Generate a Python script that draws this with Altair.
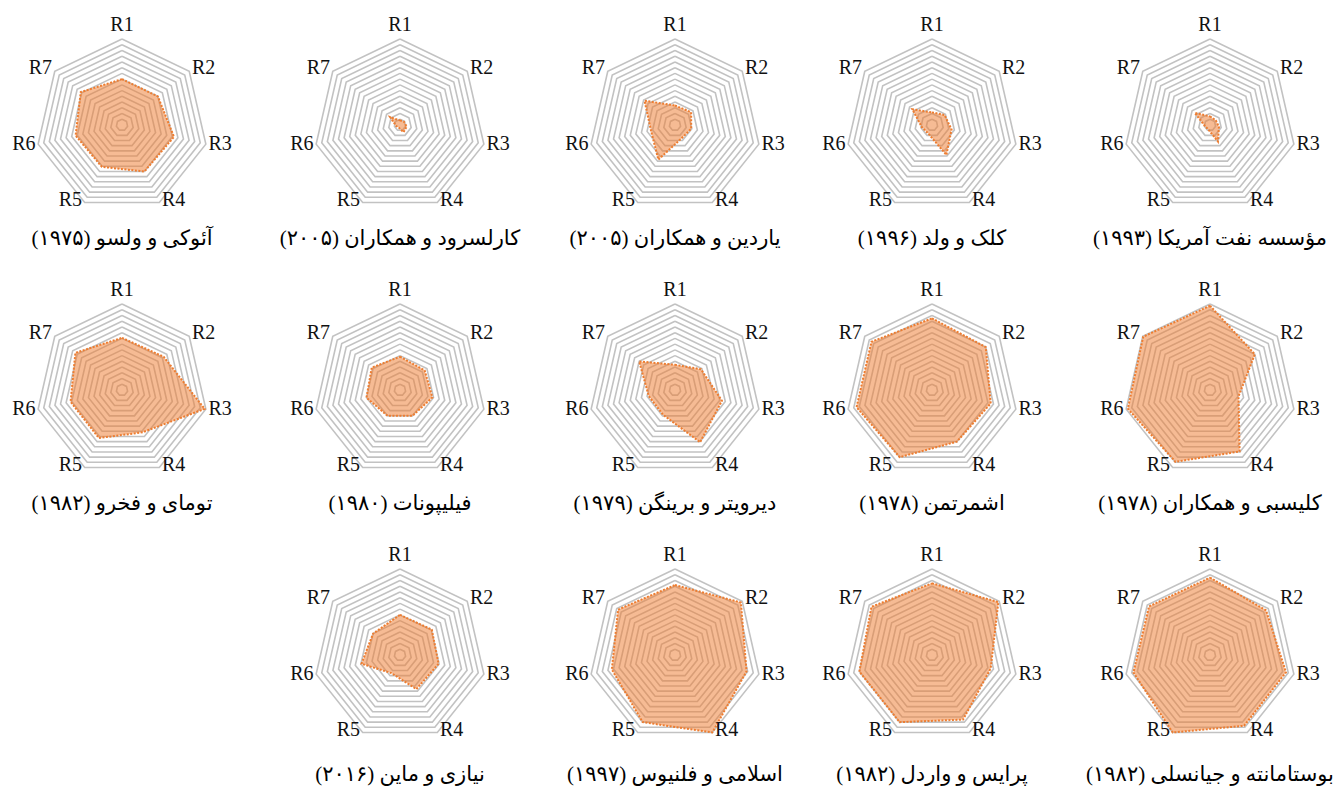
import math
import altair as alt
import pandas as pd

# ---------------- data ----------------
axis_labels = ["R1", "R2", "R3", "R4", "R5", "R6", "R7"]
ring_levels = list(range(1, 16))  # 15 grid rings, outer ring = 15

titles = [
    "مؤسسه نفت آمریکا (۱۹۹۳)",
    "کلک و ولد (۱۹۹۶)",
    "یاردین و همکاران (۲۰۰۵)",
    "کارلسرود و همکاران (۲۰۰۵)",
    "آئوکی و ولسو (۱۹۷۵)",
    "کلیسبی و همکاران (۱۹۷۸)",
    "اشمرتمن (۱۹۷۸)",
    "دیرویتر و برینگن (۱۹۷۹)",
    "فیلیپونات (۱۹۸۰)",
    "تومای و فخرو (۱۹۸۲)",
    "بوستامانته و جیانسلی (۱۹۸۲)",
    "پرایس و واردل (۱۹۸۲)",
    "اسلامی و فلنیوس (۱۹۹۷)",
    "نیازی و ماین (۲۰۱۶)",
]

# values R1..R7 for each study
api_1993 = [1.5, 1.3, 1.6, 3.2, 0.8, 0.9, 3.4]
kalk_1996 = [2.2, 2.8, 3.5, 5.8, 1.6, 1.8, 4.4]
yardin_2005 = [3.4, 3.6, 2.9, 2.6, 6.7, 4.3, 6.8]
karlsrud_2005 = [0.8, 0.9, 1.2, 1.4, 0.5, 0.7, 2.2]
aoki_1975 = [8.0, 8.0, 9.3, 9.0, 8.1, 8.3, 9.2]
clisby_1978 = [14.7, 10.0, 5.1, 11.9, 13.9, 14.7, 14.9]
schmertmann_1978 = [12.5, 12.0, 10.5, 10.0, 13.0, 13.5, 13.5]
deruiter_1979 = [4.4, 5.8, 8.4, 10.1, 4.8, 4.7, 8.0]
philipponnat_1980 = [5.8, 5.5, 5.8, 5.0, 5.0, 6.0, 6.3]
tumay_1982 = [9.1, 9.3, 14.8, 8.2, 9.3, 9.2, 10.4]
bustamante_1982 = [13.5, 12.5, 13.6, 13.7, 15.0, 13.7, 13.6]
price_1982 = [12.5, 14.8, 10.5, 12.5, 13.0, 13.0, 13.5]
eslami_1997 = [12.2, 14.7, 12.8, 15.0, 13.0, 11.3, 12.7]
niazi_2016 = [7.0, 7.1, 6.9, 6.6, 3.5, 6.9, 6.0]

series = [
    api_1993, kalk_1996, yardin_2005, karlsrud_2005, aoki_1975,
    clisby_1978, schmertmann_1978, deruiter_1979, philipponnat_1980, tumay_1982,
    bustamante_1982, price_1982, eslami_1997, niazi_2016,
]

# ---------------- tables ----------------
val_rows = []
for t, vals in zip(titles, series):
    for i in range(8):  # closed polygon
        val_rows.append({"study": t, "idx": i, "value": vals[i % 7]})
val_df = pd.DataFrame(val_rows)

ring_df = pd.DataFrame(
    [{"ring": r, "idx": i, "value": r} for r in ring_levels for i in range(8)]
)
label_df = pd.DataFrame([{"label": l, "idx": i} for i, l in enumerate(axis_labels)])
title_df = pd.DataFrame({"study": titles})

# ---------------- layout ----------------
PW, PH = 240, 250          # panel size (px)
K = 86.0 / 15.0            # px per grid unit
COL_CX = [114, 120, 123, 108, 114]   # radar centre x inside panel, per column (left->right)
CY = 117                   # radar centre y from panel top
TITLE_DY = [114, 114, 120] # title offset below centre, per row
ORANGE = "#ED7D31"
GRID = "#C2C2C2"
SERIF = "Liberation Serif, Times New Roman, serif"
FA_FONT = "Liberation Serif, DejaVu Sans, serif"


def panel(study, col, row):
    cx = COL_CX[col]
    xs = alt.Scale(domain=[-cx / K, (PW - cx) / K], nice=False, zero=False)
    ys = alt.Scale(domain=[-(PH - CY) / K, CY / K], nice=False, zero=False)

    def X(f):
        return alt.X(f, type="quantitative", scale=xs, axis=None)

    def Y(f):
        return alt.Y(f, type="quantitative", scale=ys, axis=None)

    polar = dict(
        px="datum.value*sin(2*PI*datum.idx/7)",
        py="datum.value*cos(2*PI*datum.idx/7)",
    )

    rings = (
        alt.Chart(ring_df)
        .transform_calculate(**polar)
        .mark_line(stroke=GRID, strokeWidth=1.6)
        .encode(x=X("px"), y=Y("py"), detail="ring:N", order="idx:Q")
    )

    shape_base = (
        alt.Chart(val_df)
        .transform_filter(alt.datum.study == study)
        .transform_calculate(**polar)
    )
    fill = shape_base.mark_line(
        fill=ORANGE, fillOpacity=0.52, strokeOpacity=0, stroke=ORANGE
    ).encode(x=X("px"), y=Y("py"), order="idx:Q")
    outline = shape_base.mark_line(
        stroke=ORANGE, strokeWidth=2, strokeDash=[2, 1.5]
    ).encode(x=X("px"), y=Y("py"), order="idx:Q")

    labels = (
        alt.Chart(label_df)
        .transform_calculate(
            lx="15*sin(2*PI*datum.idx/7) + 2.5*(sin(2*PI*datum.idx/7) > 0.01 ? 1 : (sin(2*PI*datum.idx/7) < -0.01 ? -1 : 0))",
            ly="15*cos(2*PI*datum.idx/7) + (datum.idx == 0 ? 2.45 : (cos(2*PI*datum.idx/7) < -0.5 ? 0.45 : (abs(cos(2*PI*datum.idx/7)) < 0.3 ? 0 : 0.6)))",
        )
        .mark_text(font=SERIF, fontSize=20, color="#111111", baseline="middle")
        .encode(x=X("lx"), y=Y("ly"), text="label:N")
    )

    title = (
        alt.Chart(title_df)
        .transform_filter(alt.datum.study == study)
        .transform_calculate(tx="0", ty=str(-TITLE_DY[row] / K))
        .mark_text(font=FA_FONT, fontSize=21, color="#000000", dir="rtl",
                   align="center", baseline="middle")
        .encode(x=X("tx"), y=Y("ty"), text="study:N")
    )

    return alt.layer(rings, fill, outline, labels, title).properties(width=PW, height=PH)


def empty_panel():
    xs = alt.Scale(domain=[0, 1], nice=False, zero=False)
    return (
        alt.Chart(ring_df)
        .transform_filter("false")
        .mark_point(opacity=0)
        .encode(x=alt.X("idx:Q", scale=xs, axis=None), y=alt.Y("value:Q", scale=xs, axis=None))
        .properties(width=PW, height=PH)
    )


# right-to-left order inside each row
row_items = [titles[0:5], titles[5:10], titles[10:14]]
panels = []
for r, items in enumerate(row_items):
    cells = [None] * (5 - len(items)) + list(reversed(items))
    for c, s in enumerate(cells):
        panels.append(empty_panel() if s is None else panel(s, c, r))

chart = (
    alt.concat(*panels, columns=5, spacing={"row": 15, "column": 32}, bounds="flush")
    .properties(padding=0, background="white")
    .configure_view(stroke=None)
)

chart.save("out.html", embed_options={"renderer": "svg", "actions": False})
